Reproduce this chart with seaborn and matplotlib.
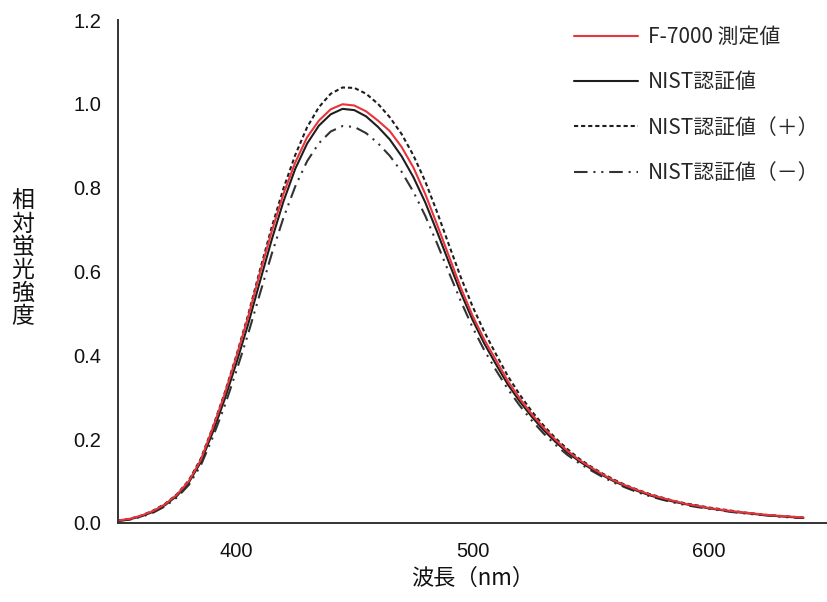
import matplotlib
matplotlib.use("Agg")
import matplotlib.pyplot as plt
import seaborn as sns
import pandas as pd
from matplotlib.lines import Line2D
from matplotlib.ticker import MultipleLocator

sns.set_theme(style="white")
plt.rcParams['font.family'] = ['Noto Sans CJK JP', 'DejaVu Sans']

wavelength = [350, 355, 360, 365, 370, 375, 380, 385, 390, 395,
              400, 405, 410, 415, 420, 425, 430, 435, 440, 445,
              450, 455, 460, 465, 470, 475, 480, 485, 490, 495,
              500, 505, 510, 515, 520, 525, 530, 535, 540, 545,
              550, 555, 560, 565, 570, 575, 580, 585, 590, 595,
              600, 605, 610, 615, 620, 625, 630, 635, 640]

f7000 = [0.006, 0.010, 0.018, 0.029, 0.045, 0.068, 0.100, 0.150, 0.225, 0.305,
         0.395, 0.490, 0.595, 0.695, 0.785, 0.860, 0.920, 0.960, 0.987, 0.999,
         0.996, 0.982, 0.960, 0.935, 0.897, 0.848, 0.785, 0.712, 0.637, 0.562,
         0.495, 0.437, 0.388, 0.338, 0.297, 0.260, 0.228, 0.199, 0.173, 0.151,
         0.133, 0.116, 0.101, 0.089, 0.078, 0.068, 0.060, 0.053, 0.046, 0.041,
         0.036, 0.032, 0.028, 0.025, 0.022, 0.019, 0.017, 0.015, 0.013]

nist = [0.005, 0.009, 0.016, 0.027, 0.043, 0.065, 0.097, 0.145, 0.215, 0.293,
        0.380, 0.473, 0.575, 0.675, 0.767, 0.845, 0.905, 0.948, 0.975, 0.988,
        0.985, 0.970, 0.945, 0.915, 0.875, 0.825, 0.765, 0.695, 0.622, 0.550,
        0.485, 0.428, 0.378, 0.330, 0.290, 0.254, 0.222, 0.194, 0.169, 0.148,
        0.130, 0.114, 0.099, 0.087, 0.076, 0.066, 0.058, 0.051, 0.045, 0.040,
        0.035, 0.031, 0.027, 0.024, 0.021, 0.018, 0.016, 0.014, 0.012]

nist_plus = [0.006, 0.010, 0.018, 0.030, 0.046, 0.069, 0.102, 0.153, 0.227, 0.308,
             0.398, 0.495, 0.602, 0.705, 0.798, 0.878, 0.944, 0.992, 1.024, 1.039,
             1.038, 1.024, 1.000, 0.968, 0.928, 0.877, 0.815, 0.742, 0.664, 0.587,
             0.517, 0.456, 0.402, 0.350, 0.306, 0.267, 0.233, 0.203, 0.177, 0.154,
             0.135, 0.118, 0.103, 0.090, 0.079, 0.069, 0.061, 0.053, 0.047, 0.042,
             0.037, 0.033, 0.029, 0.025, 0.022, 0.019, 0.017, 0.015, 0.013]

nist_minus = [0.005, 0.008, 0.015, 0.025, 0.040, 0.061, 0.091, 0.137, 0.203, 0.277,
              0.361, 0.450, 0.546, 0.641, 0.728, 0.803, 0.863, 0.906, 0.934, 0.947,
              0.945, 0.930, 0.906, 0.876, 0.838, 0.790, 0.733, 0.667, 0.598, 0.530,
              0.467, 0.412, 0.364, 0.319, 0.280, 0.245, 0.214, 0.187, 0.163, 0.143,
              0.126, 0.110, 0.096, 0.084, 0.073, 0.064, 0.056, 0.049, 0.043, 0.038,
              0.034, 0.030, 0.026, 0.023, 0.020, 0.018, 0.015, 0.013, 0.012]

labels = ["F-7000 測定値", "NIST認証値", "NIST認証値（＋）", "NIST認証値（－）"]
x_ticks = [400, 500, 600]
y_ticks = [0.0, 0.2, 0.4, 0.6, 0.8, 1.0, 1.2]

W, H = 827, 602
fig = plt.figure(figsize=(W / 100, H / 100), dpi=100)
ax = fig.add_axes([118 / W, (H - 523) / H, (W - 118) / W, (523 - 20) / H])

df = pd.DataFrame({"wl": wavelength, "f": f7000, "n": nist, "p": nist_plus, "m": nist_minus})

red = "#e8343a"
dark = "#1e1e1e"
lw = 1.5
dashdot = (0, (6.5, 2.8, 1.0, 2.8, 1.0, 2.8))
dotted = (0, (2.0, 1.4))
sns.lineplot(data=df, x="wl", y="m", ax=ax, color="#333333", lw=lw, linestyle=dashdot)
sns.lineplot(data=df, x="wl", y="p", ax=ax, color=dark, lw=lw, linestyle=dotted)
sns.lineplot(data=df, x="wl", y="n", ax=ax, color=dark, lw=lw)
sns.lineplot(data=df, x="wl", y="f", ax=ax, color=red, lw=lw)

tick_font = ['Liberation Sans', 'Noto Sans CJK JP']
ax.set_xlim(350, 650)
ax.set_ylim(0, 1.2)
ax.set_xticks(x_ticks)
ax.set_xticklabels([str(v) for v in x_ticks], family=tick_font)
ax.xaxis.set_minor_locator(MultipleLocator(50))
ax.set_yticks(y_ticks)
ax.set_yticklabels([f"{v:.1f}" for v in y_ticks], family=tick_font)
ax.tick_params(axis="both", which="both", direction="in", length=6, width=1.2,
               color="#333333", labelsize=14.5, labelcolor="#111111")
ax.tick_params(axis="x", pad=14)
ax.tick_params(axis="y", pad=12)
for s in ["top", "right"]:
    ax.spines[s].set_visible(False)
for s in ["left", "bottom"]:
    ax.spines[s].set_color("#333333")
    ax.spines[s].set_linewidth(1.4)
ax.set_xlabel("")
ax.set_ylabel("")

fig.text(473 / W, 1 - 578 / H, "波長（nm）", ha="center", va="center", fontsize=16, color="#111111")
fig.text(23 / W, 1 - 259 / H, "\n".join("相対蛍光強度"), ha="center", va="center",
         fontsize=16.5, color="#111111", linespacing=1.0)

handles = [
    Line2D([], [], color=red, lw=lw),
    Line2D([], [], color=dark, lw=lw),
    Line2D([], [], color=dark, lw=lw, linestyle=dotted),
    Line2D([], [], color="#333333", lw=lw, linestyle=dashdot),
]
fig.legend(handles, labels, loc="upper left", bbox_to_anchor=(574 / W, 1 - 26 / H),
           frameon=False, fontsize=15, handlelength=3.05, handletextpad=0.5,
           labelspacing=1.12, borderpad=0, borderaxespad=0)

fig.savefig("out.png", dpi=100)
